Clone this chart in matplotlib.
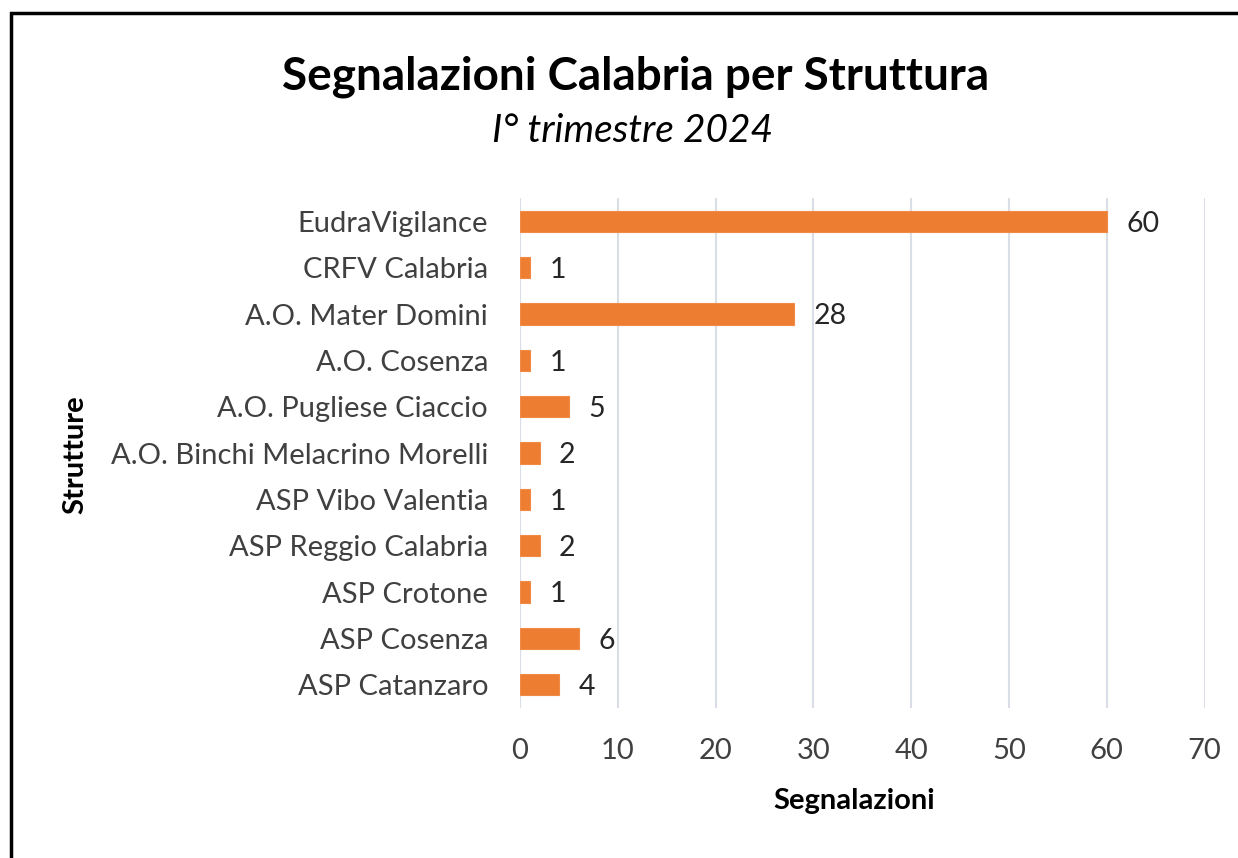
import numpy as np
import matplotlib.pyplot as plt
from matplotlib.patches import Rectangle

plt.rcParams['font.family'] = ['Lato', 'DejaVu Sans']

strutture = ['ASP Catanzaro', 'ASP Cosenza', 'ASP Crotone', 'ASP Reggio Calabria',
             'ASP Vibo Valentia', 'A.O. Binchi Melacrino Morelli', 'A.O. Pugliese Ciaccio',
             'A.O. Cosenza', 'A.O. Mater Domini', 'CRFV Calabria', 'EudraVigilance']
segnalazioni = [4, 6, 1, 2, 1, 2, 5, 1, 28, 1, 60]
xticks = [0, 10, 20, 30, 40, 50, 60, 70]

fig = plt.figure(figsize=(12.38, 8.58), dpi=100)
ax = fig.add_axes([0.42, 0.175, 0.553, 0.594])

pos = np.arange(len(strutture))
ax.barh(pos, segnalazioni, height=0.46, color='#ED7D31', edgecolor='#F08A45',
        linewidth=0.8, zorder=3)
for p, v in zip(pos, segnalazioni):
    ax.text(v + 2.0, p - 0.05, str(v), va='center', ha='left', fontsize=20.5, color='#262626')

ax.set_ylim(-0.5, len(strutture) - 0.5)
ax.set_xlim(0, 70)
ax.set_xticks(xticks)
ax.set_yticks(pos)
ax.set_yticklabels(strutture)
ax.tick_params(axis='both', length=0, labelsize=21, labelcolor='#404040')
ax.tick_params(axis='x', pad=22)
ax.tick_params(axis='y', pad=23)
ax.grid(axis='x', color='#D9DEE7', linewidth=1.5, zorder=0)
for s in ax.spines.values():
    s.set_visible(False)

fig.text(0.69, 0.067, 'Segnalazioni', fontsize=21, fontweight='bold',
         ha='center', va='center')
fig.text(0.061, 0.47, 'Strutture', rotation=90, fontsize=21, fontweight='bold',
         ha='center', va='center')

fig.text(0.513, 0.91, 'Segnalazioni Calabria per Struttura', fontsize=33,
         fontweight='bold', ha='center', va='center')
fig.text(0.511, 0.847, 'I° trimestre 2024', fontsize=28, style='italic',
         ha='center', va='center')

# chart frame (only left and top edges visible in the crop)
fig.patches.append(Rectangle((0.009, -0.05), 1.1, 1.035, transform=fig.transFigure,
                             fill=False, edgecolor='black', linewidth=2.5))

fig.savefig('out.png', dpi=100)
